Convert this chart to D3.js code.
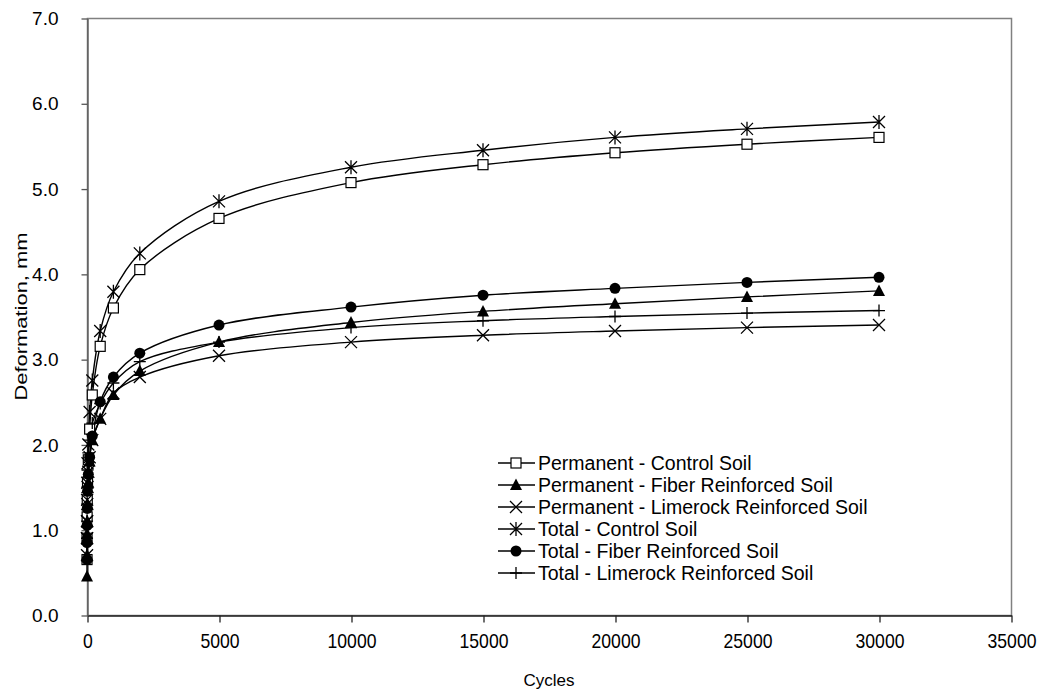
<!DOCTYPE html>
<html>
<head>
<meta charset="utf-8">
<script src="https://cdn.jsdelivr.net/npm/d3@7"></script>
<style>
  body { margin: 0; background: #fff; }
  svg { display: block; font-family: "Liberation Sans", Arial, sans-serif; }
</style>
</head>
<body>
<svg width="1047" height="698"></svg>
<script>
const CYCLES = [1, 2, 5, 10, 20, 50, 100, 200, 500, 1000, 2000, 5000, 10000, 15000, 20000, 25000, 30000];

const PERM_CONTROL = [0.65, 0.9, 1.15, 1.35, 1.55, 1.82, 2.18, 2.58, 3.15, 3.6, 4.05, 4.65, 5.07, 5.28, 5.42, 5.52, 5.6];
const PERM_FIBER = [0.45, 0.7, 0.95, 1.1, 1.3, 1.55, 1.8, 2.05, 2.3, 2.58, 2.86, 3.2, 3.43, 3.56, 3.65, 3.73, 3.8];
const PERM_LIME = [0.7, 0.9, 1.1, 1.3, 1.5, 1.68, 1.85, 2.05, 2.3, 2.6, 2.79, 3.04, 3.2, 3.28, 3.33, 3.37, 3.4];
const TOTAL_CONTROL = [0.9, 1.1, 1.35, 1.55, 1.78, 2.0, 2.38, 2.75, 3.33, 3.79, 4.24, 4.85, 5.25, 5.45, 5.6, 5.7, 5.78];
const TOTAL_FIBER = [0.65, 0.85, 1.05, 1.25, 1.45, 1.65, 1.85, 2.1, 2.5, 2.79, 3.07, 3.4, 3.61, 3.75, 3.83, 3.9, 3.96];
const TOTAL_LIME = [0.9, 1.1, 1.3, 1.5, 1.7, 1.9, 2.05, 2.25, 2.48, 2.72, 2.97, 3.2, 3.37, 3.45, 3.5, 3.54, 3.57];

const SERIES_NAMES = [
  "Permanent - Control Soil",
  "Permanent - Fiber Reinforced Soil",
  "Permanent - Limerock Reinforced Soil",
  "Total - Control Soil",
  "Total - Fiber Reinforced Soil",
  "Total - Limerock Reinforced Soil",
];
const MARKERS = ["square", "triangle", "cross", "star", "circle", "plus"];
const X_TICKS = [0, 5000, 10000, 15000, 20000, 25000, 30000, 35000];
const Y_TICKS = [0, 1, 2, 3, 4, 5, 6, 7];

const series = [PERM_CONTROL, PERM_FIBER, PERM_LIME, TOTAL_CONTROL, TOTAL_FIBER, TOTAL_LIME].map((vals, i) => ({
  name: SERIES_NAMES[i],
  marker: MARKERS[i],
  points: CYCLES.map((c, j) => ({ x: c, y: vals[j] })),
}));

const PLOT = { left: 87, top: 18, right: 1011, bottom: 615 };

const svg = d3.select("svg");
const x = d3.scaleLinear().domain([0, 35000]).range([PLOT.left, PLOT.right]);
const y = d3.scaleLinear().domain([0, 7]).range([PLOT.bottom, PLOT.top]);

// plot frame
svg.append("rect")
  .attr("x", PLOT.left + 0.5)
  .attr("y", PLOT.top + 0.5)
  .attr("width", PLOT.right - PLOT.left)
  .attr("height", PLOT.bottom - PLOT.top)
  .attr("fill", "none")
  .attr("stroke", "#808080")
  .attr("stroke-width", 1.5);

// axes
const xAxis = svg.append("g")
  .attr("transform", `translate(0.5,${PLOT.bottom + 0.5})`)
  .call(d3.axisBottom(x).tickValues(X_TICKS).tickFormat(d3.format("d")).tickSizeInner(7).tickSizeOuter(0).tickPadding(11));
const yAxis = svg.append("g")
  .attr("transform", `translate(${PLOT.left + 0.5},0.5)`)
  .call(d3.axisLeft(y).tickValues(Y_TICKS).tickFormat(d3.format(".1f")).tickSizeInner(6).tickSizeOuter(0).tickPadding(23));

xAxis.selectAll("path, line").attr("stroke", "#222").attr("stroke-width", 1.3);
yAxis.selectAll("path, line").attr("stroke", "#555").attr("stroke-width", 1.3);
xAxis.selectAll("text")
  .attr("font-size", 20)
  .attr("fill", "#000")
  .attr("font-family", "Liberation Sans, Arial, sans-serif")
  .attr("transform", "scale(0.88,1)");
yAxis.selectAll("text")
  .attr("font-size", 19)
  .attr("fill", "#000")
  .attr("font-family", "Liberation Sans, Arial, sans-serif");

svg.append("text")
  .attr("x", (PLOT.left + PLOT.right) / 2)
  .attr("y", 686)
  .attr("text-anchor", "middle")
  .attr("font-size", 17)
  .text("Cycles");

svg.append("text")
  .attr("transform", `translate(27,${(PLOT.top + PLOT.bottom) / 2}) rotate(-90)`)
  .attr("text-anchor", "middle")
  .attr("font-size", 17)
  .attr("textLength", 168)
  .attr("lengthAdjust", "spacingAndGlyphs")
  .text("Deformation, mm");

// markers
function drawMarker(g, type, cx, cy) {
  const s = 5;
  if (type === "square") {
    g.append("rect").attr("x", cx - s).attr("y", cy - s).attr("width", 2 * s).attr("height", 2 * s)
      .attr("fill", "#fff").attr("stroke", "#000").attr("stroke-width", 1.2);
  } else if (type === "triangle") {
    g.append("path").attr("d", `M${cx},${cy - 6.5}L${cx + 6},${cy + 5}L${cx - 6},${cy + 5}Z`).attr("fill", "#000");
  } else if (type === "circle") {
    g.append("circle").attr("cx", cx).attr("cy", cy).attr("r", 5.5).attr("fill", "#000");
  } else if (type === "cross") {
    g.append("path").attr("d", `M${cx - 6},${cy - 6}L${cx + 6},${cy + 6}M${cx - 6},${cy + 6}L${cx + 6},${cy - 6}`)
      .attr("stroke", "#000").attr("stroke-width", 1.3);
  } else if (type === "star") {
    g.append("path").attr("d", `M${cx - 6},${cy - 6}L${cx + 6},${cy + 6}M${cx - 6},${cy + 6}L${cx + 6},${cy - 6}M${cx},${cy - 7}L${cx},${cy + 7}`)
      .attr("stroke", "#000").attr("stroke-width", 1.3);
  } else if (type === "plus") {
    g.append("path").attr("d", `M${cx - 6},${cy}L${cx + 6},${cy}M${cx},${cy - 6}L${cx},${cy + 6}`)
      .attr("stroke", "#000").attr("stroke-width", 1.3);
  }
}

const line = d3.line()
  .x((d) => x(d.x))
  .y((d) => y(d.y))
  .curve(d3.curveCatmullRom.alpha(0.5));

const plotG = svg.append("g");
series.forEach((s) => {
  plotG.append("path")
    .attr("d", line(s.points))
    .attr("fill", "none")
    .attr("stroke", "#000")
    .attr("stroke-width", 1.4);
});
series.forEach((s) => {
  const mg = plotG.append("g");
  s.points.forEach((p) => drawMarker(mg, s.marker, x(p.x), y(p.y)));
});

// legend
const legend = svg.append("g").attr("transform", "translate(498,463)");
series.forEach((s, i) => {
  const g = legend.append("g").attr("transform", `translate(0,${i * 22})`);
  g.append("line").attr("x1", 0).attr("x2", 37).attr("y1", 0).attr("y2", 0)
    .attr("stroke", "#000").attr("stroke-width", 1.4);
  drawMarker(g, s.marker, 18, 0);
  g.append("text")
    .attr("x", 40)
    .attr("y", 7)
    .attr("font-size", 19.5)
    .text(s.name);
});
</script>
</body>
</html>
